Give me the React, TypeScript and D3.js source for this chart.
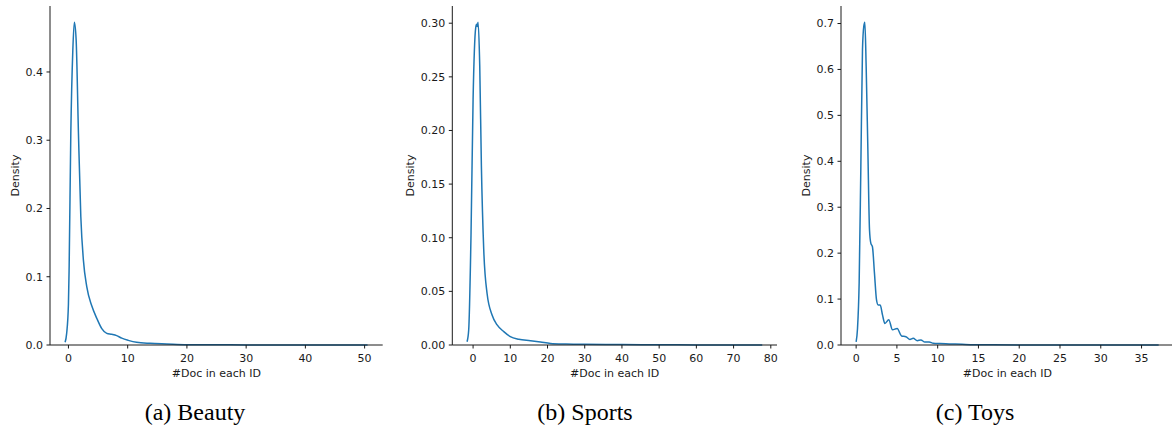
import React from "react";
import * as d3 from "d3";

// ---------- data ----------
const beautyX = [-0.56, -0.3, 0.0, 0.12, 0.4, 0.74, 1.0, 1.3, 1.69, 2.09, 2.53, 3.1, 3.95, 4.79, 5.63, 6.47, 7.3, 8.14, 9.0, 10.1, 11.5, 13.8, 16.6, 20, 25, 30, 40, 50.5];
const beautyY = [0.004, 0.017, 0.06, 0.115, 0.31, 0.432, 0.473, 0.447, 0.31, 0.188, 0.124, 0.085, 0.057, 0.039, 0.024, 0.017, 0.0156, 0.0137, 0.01, 0.0068, 0.0039, 0.0024, 0.0015, 0.0005, 0.0003, 0.0001, 0.00005, 0];

const sportsX = [-1.62, -1.18, -0.55, 0, 0.71, 0.95, 1.1, 1.34, 1.79, 2.23, 2.86, 3.76, 5.1, 6.46, 8.25, 10.0, 12.27, 15.4, 18.1, 20.8, 25, 30, 40, 50, 60, 77.7];
const sportsY = [0.003, 0.014, 0.104, 0.229, 0.296, 0.299, 0.297, 0.301, 0.26, 0.167, 0.089, 0.048, 0.028, 0.0187, 0.0125, 0.0078, 0.0053, 0.004, 0.0028, 0.0015, 0.0009, 0.0006, 0.0004, 0.0002, 0.0001, 0];

const toysX = [0.0, 0.17, 0.37, 0.58, 0.78, 0.94, 1.07, 1.23, 1.44, 1.64, 1.8, 2.0, 2.25, 2.5, 2.7, 2.95, 3.24, 3.52, 4.0, 4.46, 5.03, 5.57, 6.1, 6.6, 7.0, 7.5, 7.94, 8.43, 8.96, 9.46, 10.3, 11, 12, 13, 14, 16, 20, 25, 30, 37.1];
const toysY = [0.007, 0.036, 0.135, 0.389, 0.643, 0.694, 0.703, 0.607, 0.425, 0.251, 0.222, 0.214, 0.156, 0.098, 0.087, 0.087, 0.065, 0.047, 0.055, 0.033, 0.036, 0.0196, 0.018, 0.012, 0.0145, 0.0094, 0.011, 0.0065, 0.0065, 0.0037, 0.003, 0.0025, 0.002, 0.0015, 0.0008, 0.0004, 0.0002, 0.0001, 0.00005, 0];

const beautyXTicks = [0, 10, 20, 30, 40, 50];
const beautyYTicks = [0.0, 0.1, 0.2, 0.3, 0.4];
const sportsXTicks = [0, 10, 20, 30, 40, 50, 60, 70, 80];
const sportsYTicks = [0.0, 0.05, 0.1, 0.15, 0.2, 0.25, 0.3];
const toysXTicks = [0, 5, 10, 15, 20, 25, 30, 35];
const toysYTicks = [0.0, 0.1, 0.2, 0.3, 0.4, 0.5, 0.6, 0.7];

const captions = ["(a) Beauty", "(b) Sports", "(c) Toys"];
const xLabel = "#Doc in each ID";
const yLabel = "Density";

// ---------- layout ----------
const W = 1172;
const H = 430;
const TOP = 6;
const BOTTOM = 345;
const FONT = "'DejaVu Sans', sans-serif";
const INK = "#1a1a1a";
const LINE = "#1f77b4";

type PanelSpec = {
  xs: number[];
  ys: number[];
  xTicks: number[];
  yTicks: number[];
  yDigits: number;
  left: number;
  right: number;
  yLabelX: number;
  captionX: number;
  caption: string;
};

const panels: PanelSpec[] = [
  { xs: beautyX, ys: beautyY, xTicks: beautyXTicks, yTicks: beautyYTicks, yDigits: 1, left: 50, right: 382.7, yLabelX: 15, captionX: 195, caption: captions[0] },
  { xs: sportsX, ys: sportsY, xTicks: sportsXTicks, yTicks: sportsYTicks, yDigits: 2, left: 452.3, right: 777, yLabelX: 410.5, captionX: 585, caption: captions[1] },
  { xs: toysX, ys: toysY, xTicks: toysXTicks, yTicks: toysYTicks, yDigits: 1, left: 841, right: 1173.8, yLabelX: 805.7, captionX: 975, caption: captions[2] },
];

function Panel({ p }: { p: PanelSpec }) {
  const xMin = d3.min(p.xs)!;
  const xMax = d3.max(p.xs)!;
  const pad = (xMax - xMin) * 0.05;
  const x = d3.scaleLinear().domain([xMin - pad, xMax + pad]).range([p.left, p.right]);
  const yMax = d3.max(p.ys)!;
  const y = d3.scaleLinear().domain([0, yMax * 1.05]).range([BOTTOM, TOP]);
  const pts: [number, number][] = p.xs.map((v, i) => [v, p.ys[i]]);
  const line = d3
    .line<[number, number]>()
    .x((d) => x(d[0]))
    .y((d) => y(d[1]))
    .curve(d3.curveMonotoneX);
  const tl = 3.5;
  return (
    <g>
      <path d={line(pts) || ""} fill="none" stroke={LINE} strokeWidth={1.5} strokeLinejoin="round" />
      {/* spines */}
      <line x1={p.left} x2={p.left} y1={TOP} y2={BOTTOM} stroke={INK} strokeWidth={1} />
      <line x1={p.left} x2={p.right} y1={BOTTOM} y2={BOTTOM} stroke={INK} strokeWidth={1} />
      {/* x ticks */}
      {p.xTicks.map((t) => (
        <g key={"x" + t}>
          <line x1={x(t)} x2={x(t)} y1={BOTTOM} y2={BOTTOM + tl} stroke={INK} strokeWidth={1} />
          <text x={x(t)} y={361.5} textAnchor="middle" fontSize={11} fontFamily={FONT} fill={INK}>
            {t}
          </text>
        </g>
      ))}
      {/* y ticks */}
      {p.yTicks.map((t) => (
        <g key={"y" + t}>
          <line x1={p.left - tl} x2={p.left} y1={y(t)} y2={y(t)} stroke={INK} strokeWidth={1} />
          <text x={p.left - 7} y={y(t)} dy="0.36em" textAnchor="end" fontSize={11} fontFamily={FONT} fill={INK}>
            {t.toFixed(p.yDigits)}
          </text>
        </g>
      ))}
      <text x={(p.left + p.right) / 2} y={376.5} textAnchor="middle" fontSize={11} fontFamily={FONT} fill={INK}>
        {xLabel}
      </text>
      <text
        transform={`translate(${p.yLabelX},${(TOP + BOTTOM) / 2}) rotate(-90)`}
        dy="0.36em"
        textAnchor="middle"
        fontSize={11}
        fontFamily={FONT}
        fill={INK}
      >
        {yLabel}
      </text>
      <text x={p.captionX} y={420} textAnchor="middle" fontSize={24} fontFamily="'Liberation Serif', 'Times New Roman', serif" fill="#000">
        {p.caption}
      </text>
    </g>
  );
}

export default function App() {
  return (
    <svg width={W} height={H} style={{ position: "absolute", left: 0, top: 0, background: "#fff" }}>
      <rect x={0} y={0} width={W} height={H} fill="#fff" />
      {panels.map((p, i) => (
        <Panel key={i} p={p} />
      ))}
    </svg>
  );
}
